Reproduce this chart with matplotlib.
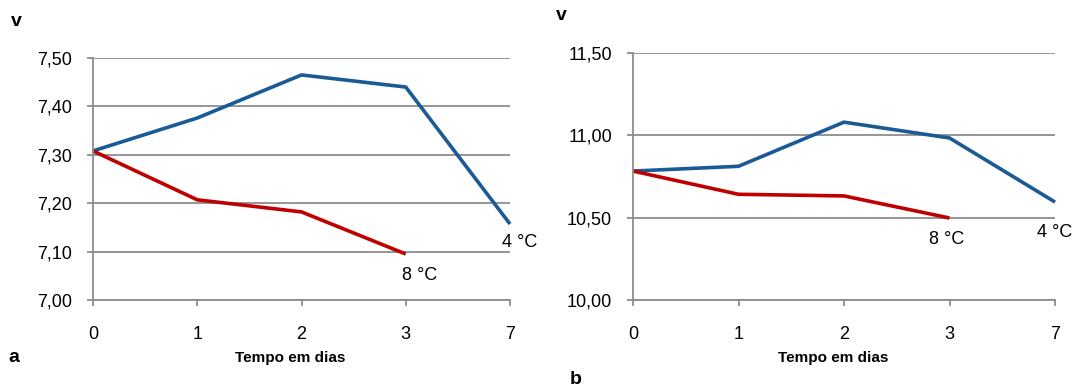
import numpy as np
import matplotlib.pyplot as plt

plt.rcParams['font.family'] = ['Liberation Sans', 'DejaVu Sans']

days = ['0', '1', '2', '3', '7']

# chart a
a_4c = [7.308, 7.376, 7.465, 7.440, 7.157]
a_8c = [7.308, 7.207, 7.182, 7.095]
a_yticks = [7.00, 7.10, 7.20, 7.30, 7.40, 7.50]

# chart b
b_4c = [10.783, 10.812, 11.080, 10.984, 10.595]
b_8c = [10.783, 10.642, 10.632, 10.498]
b_yticks = [10.00, 10.50, 11.00, 11.50]

blue = '#1A5A96'
red = '#C00000'
grey = '#8C8C8C'

fig = plt.figure(figsize=(10.73, 3.90), dpi=100)
ax1 = fig.add_axes([93/1073, 90/390, 417/1073, 242/390])
ax2 = fig.add_axes([633/1073, 90/390, 422/1073, 247/390])


def style(ax, yticks, y4, y8, off4, off8, w):
    x = np.arange(len(days))
    ax.plot(x, y4, color=blue, lw=2.6, solid_capstyle='butt', clip_on=False)
    ax.plot(x[:len(y8)], y8, color=red, lw=2.6, solid_capstyle='butt', clip_on=False)
    ax.set_xlim(0, len(days) - 1)
    ax.set_ylim(yticks[0], yticks[-1])
    ax.set_xticks(x)
    ax.set_xticklabels(days)
    ax.set_yticks(yticks)
    ax.set_yticklabels(['{:.2f}'.format(v).replace('.', ',') for v in yticks])
    ax.grid(axis='y', color=grey, lw=1.3)
    ax.set_axisbelow(True)
    for s in ['top', 'right']:
        ax.spines[s].set_visible(False)
    for s in ['left', 'bottom']:
        ax.spines[s].set_color(grey)
        ax.spines[s].set_linewidth(1.3)
    ax.tick_params(axis='y', length=4, width=1.3, color=grey, pad=11, labelsize=13)
    ax.tick_params(axis='x', length=4, width=1.3, color=grey, pad=15, labelsize=13)
    ax.set_xlabel('Tempo em dias', fontweight='bold', fontsize=11)
    ax.xaxis.set_label_coords(0.5 - 11 / w, -51 / (ax.get_position().height * 390), transform=ax.transAxes)
    ax.annotate('4 °C', (x[-1], y4[-1]), xytext=off4, textcoords='offset pixels',
                ha='center', va='center', fontsize=13, annotation_clip=False)
    ax.annotate('8 °C', (x[len(y8) - 1], y8[-1]), xytext=off8, textcoords='offset pixels',
                ha='center', va='center', fontsize=13, annotation_clip=False)


style(ax1, a_yticks, a_4c, a_8c, (10, -18), (14, -21), 417)
style(ax2, b_yticks, b_4c, b_8c, (0, -30), (-3, -22), 422)

fig.text(16/1073, 1 - 22/390, 'v', fontweight='bold', fontsize=14, ha='center', va='center')
fig.text(561/1073, 1 - 16/390, 'v', fontweight='bold', fontsize=14, ha='center', va='center')
fig.text(14/1073, 1 - 357/390, 'a', fontweight='bold', fontsize=14, ha='center', va='center')
fig.text(576/1073, 1 - 380/390, 'b', fontweight='bold', fontsize=14, ha='center', va='center')

fig.savefig('out.png', dpi=100)
